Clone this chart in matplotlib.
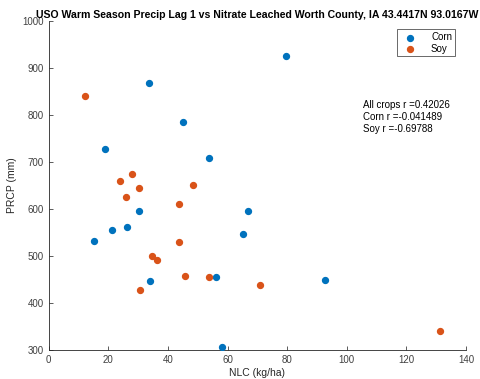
import matplotlib
matplotlib.use("Agg")
import matplotlib.pyplot as plt

plt.rcParams['font.family'] = ['Liberation Sans', 'DejaVu Sans']

corn_nlc = [79.7, 33.6, 45.2, 18.9, 53.9, 30.3, 67.0, 21.2, 26.3, 15.3, 65.3, 34.0, 56.0, 58.0, 92.7]
corn_prcp = [925, 869, 785, 727, 708, 595, 596, 555, 562, 531, 547, 447, 455, 306, 450]
soy_nlc = [12.2, 28.1, 24.0, 30.4, 48.5, 25.8, 43.8, 43.7, 34.8, 36.5, 45.8, 53.8, 30.8, 71.0, 131.1]
soy_prcp = [840, 674, 660, 644, 651, 625, 611, 530, 499, 491, 457, 455, 428, 438, 341]

r_text = "All crops r =0.42026\nCorn r =-0.041489\nSoy r =-0.69788"

corn_col = (0, 0.447, 0.741)
soy_col = (0.85, 0.325, 0.098)

fig = plt.figure(figsize=(4.81, 3.79), dpi=100)
ax = fig.add_axes([0.101, 0.0765, 0.868, 0.868])

ax.scatter(corn_nlc, corn_prcp, s=18, color=corn_col, label='Corn', zorder=3)
ax.scatter(soy_nlc, soy_prcp, s=18, color=soy_col, label='Soy', zorder=3)

ax.set_xlim(0, 140)
ax.set_ylim(300, 1000)
ax.set_xticks(range(0, 141, 20))
ax.set_yticks(range(300, 1001, 100))
ax.tick_params(direction='in', length=3, labelsize=7, colors='#404040', width=0.6)
for s in ['top', 'right']:
    ax.spines[s].set_visible(False)
for s in ['left', 'bottom']:
    ax.spines[s].set_color('#262626')
    ax.spines[s].set_linewidth(0.6)

ax.set_xlabel('NLC (kg/ha)', fontsize=7.5, color='#262626', labelpad=2)
ax.set_ylabel('PRCP (mm)', fontsize=7.5, color='#262626', labelpad=4)
ax.set_title('USO Warm Season Precip Lag 1 vs Nitrate Leached Worth County, IA 43.4417N 93.0167W',
             fontsize=7.6, fontweight='bold', pad=2)

ax.text(105.5, 795, r_text, fontsize=7, va='center', ha='left', linespacing=1.25)

leg = ax.legend(loc='upper right', bbox_to_anchor=(0.985, 0.99), fontsize=7,
                fancybox=False, edgecolor='#262626', handletextpad=1.2,
                borderpad=0.3, labelspacing=0.15, handlelength=2.0)
leg.get_frame().set_linewidth(0.6)

fig.savefig('out.png', dpi=100)
